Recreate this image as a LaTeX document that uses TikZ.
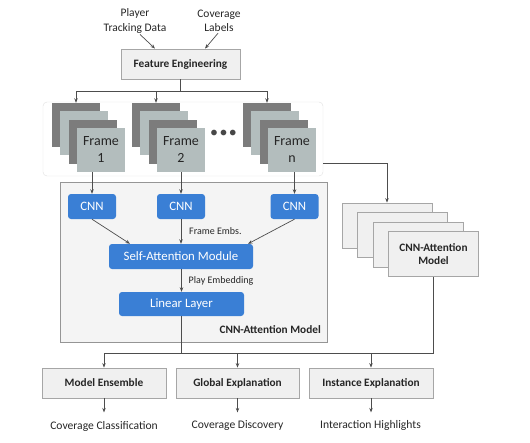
\documentclass[tikz,border=0pt]{standalone}
\usepackage{fontspec}
\setmainfont{Carlito}
\usetikzlibrary{positioning,arrows.meta}

\definecolor{cnnblue}{HTML}{3A7FD5}
\definecolor{framelight}{HTML}{B3BDBD}
\definecolor{framedark}{HTML}{7C7C7C}
\definecolor{boxfill}{HTML}{F0F0F0}
\definecolor{boxline}{HTML}{A6A6A6}
\definecolor{linegray}{HTML}{4D4D4D}
\definecolor{txt}{HTML}{262626}

\tikzset{
  arr/.style={draw=linegray, line width=0.7pt, -{Stealth[length=4.5pt,width=3.5pt]}},
  conn/.style={draw=linegray, line width=0.7pt},
  graybox/.style={draw=boxline, fill=boxfill, line width=0.8pt, inner sep=0pt, font=\fontsize{11.3}{13.5}\selectfont\bfseries, text=txt},
  bluebox/.style={fill=cnnblue, rounded corners=3pt, inner sep=0pt, text=white, font=\fontsize{12.8}{14}\selectfont},
  darkcard/.style={fill=framedark, minimum width=48pt, minimum height=44pt, inner sep=0pt},
  lightcard/.style={fill=framelight, minimum width=48pt, minimum height=44pt, inner sep=0pt, align=center, text=txt, font=\fontsize{14}{17}\selectfont},
  modelcard/.style={graybox, minimum width=90pt, minimum height=45pt, align=center},
  note/.style={font=\fontsize{10}{12}\selectfont, text=txt, inner sep=0pt},
  outtext/.style={font=\fontsize{11.6}{13}\selectfont, text=txt, inner sep=0pt}
}

\begin{document}
\begin{tikzpicture}[x=1pt, y=-1pt]
\useasboundingbox (0,0) rectangle (530,442);

% Inputs
\node[align=center, font=\fontsize{11.5}{14.5}\selectfont, text=txt, inner sep=0pt] (tracking) at (135,21) {Player\\Tracking Data};
\node[align=center, font=\fontsize{11.5}{14.5}\selectfont, text=txt, inner sep=0pt] (labels) at (219,21) {Coverage\\Labels};

% Feature engineering
\node[graybox, minimum width=119pt, minimum height=30pt] (fe) at (180.5,64) {Feature Engineering};
\draw[arr] ([xshift=5pt,yshift=-1pt]tracking.south) -- ([xshift=-25.5pt]fe.north);
\draw[arr] ([xshift=-1pt,yshift=-1pt]labels.south) -- ([xshift=24.5pt]fe.north);

% Frames
\node[draw=gray!25, rounded corners=4pt, minimum width=280pt, minimum height=74pt, inner sep=0pt] (frames) at (183,139) {};
\foreach \x/\n in {52/1, 132/2, 243/n} {
  \node[darkcard] (back\n) at ({\x+24},125) {};
  \node[lightcard] at ({\x+32.3},133.3) {};
  \node[darkcard] at ({\x+40.6},141.6) {};
  \node[lightcard] (frame\n) at ({\x+49},150) {Frame\\\n};
}
\node[font=\fontsize{16}{16}\selectfont, text=txt!85, inner sep=0pt] (dots) at (223.5,134) {•\hspace{1.5pt}•\hspace{1.5pt}•};

\draw[arr] (fe.south) -- ++(0,12) -| (back1.north);
\draw[arr] (fe.south) -- ++(0,12) -| (back2.north);
\draw[arr] (fe.south) -- ++(0,12) -| (backn.north);

% CNN-Attention model
\node[draw=boxline!90!black, fill=boxfill!70, line width=0.8pt, minimum width=267pt, minimum height=160pt, inner sep=0pt] (model) at (193.5,262) {};
\node[anchor=east, font=\fontsize{11.3}{13.5}\selectfont\bfseries, text=txt, inner sep=0pt] (modellabel) at (321,330) {CNN-Attention Model};

\node[bluebox, minimum width=48pt, minimum height=25pt] (cnn1) at (92,206.5) {CNN};
\node[bluebox, minimum width=48pt, minimum height=25pt] (cnn2) at (181,206.5) {CNN};
\node[bluebox, minimum width=48pt, minimum height=25pt] (cnn3) at (294.5,206.5) {CNN};
\node[bluebox, minimum width=144pt, minimum height=25pt] (sa) at (181,256.5) {Self-Attention Module};
\node[bluebox, minimum width=125pt, minimum height=24pt] (ll) at (181.5,304) {Linear Layer};

\draw[arr] (cnn1 |- frame1.south) -- (cnn1);
\draw[arr] (cnn2 |- frame2.south) -- (cnn2);
\draw[arr] (cnn3 |- framen.south) -- (cnn3);

\draw[arr] (cnn1.south) -- ([xshift=-51pt]sa.north);
\draw[arr] (cnn2.south) -- (sa.north -| cnn2);
\draw[arr] (cnn3.south) -- ([xshift=67pt]sa.north);
\node[note, anchor=west] (embs) at (189,231) {Frame Embs.};

\draw[arr] (sa.south -| ll) -- (ll.north);
\node[note, anchor=west] (playemb) at (188.5,281) {Play Embedding};

% Ensemble of models
\node[modelcard] (card1) at (387,225.5) {};
\node[modelcard] (card2) at (402.5,235) {};
\node[modelcard] (card3) at (418,244.5) {};
\node[modelcard] (card4) at (433.5,254) {CNN-Attention\\Model};
\draw[arr] ([yshift=-24pt]frames.east) -| (card1.north);

% Outputs
\coordinate (outsplit) at (181.5,353);
\node[graybox, minimum width=124pt, minimum height=30pt] (ens) at (104,383) {Model Ensemble};
\node[graybox, minimum width=123pt, minimum height=30pt] (glob) at (237.5,383) {Global Explanation};
\node[graybox, minimum width=124pt, minimum height=30pt] (inst) at (371,383) {Instance Explanation};

\draw[conn] (ll.south) -- (outsplit);
\draw[conn] (card4.south) |- (outsplit);
\draw[arr] (outsplit) -| (ens.north);
\draw[arr] (outsplit) -| (glob.north);
\draw[arr] (card4.south |- outsplit) -| (inst.north);

\node[outtext] (cls) at (104,426) {Coverage Classification};
\node[outtext] (disc) at (237.5,426) {Coverage Discovery};
\node[outtext] (high) at (370.5,425) {Interaction Highlights};
\draw[arr] (ens.south) -- ++(0,14);
\draw[arr] (glob.south) -- ++(0,14);
\draw[arr] (inst.south) -- ++(0,14);

\end{tikzpicture}
\end{document}
